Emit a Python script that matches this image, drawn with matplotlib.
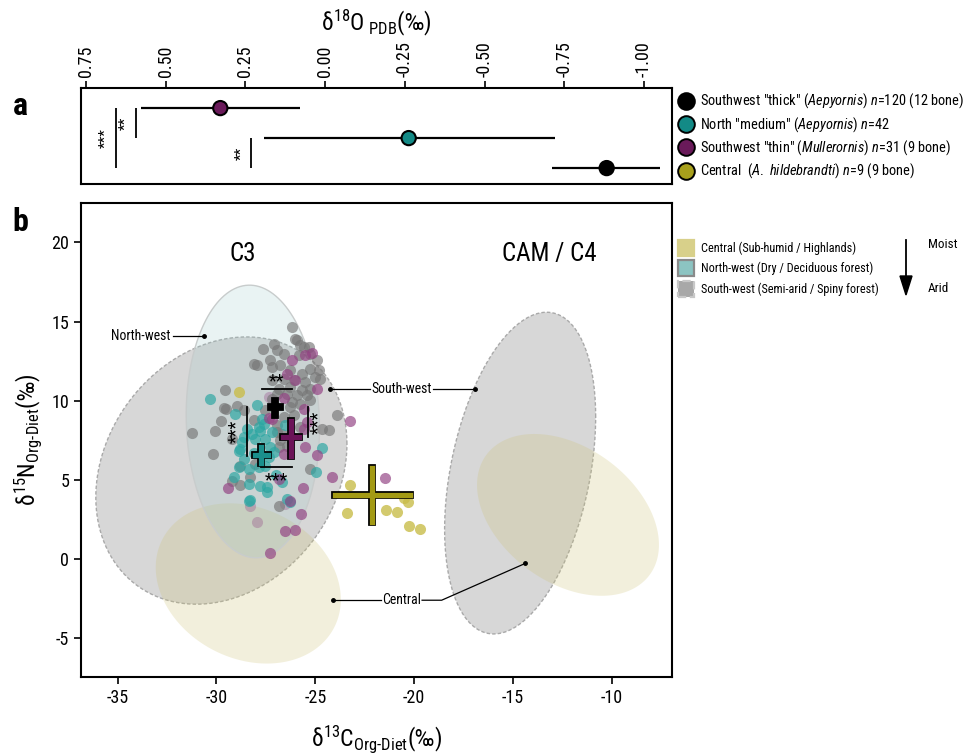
import numpy as np
import matplotlib.pyplot as plt
from matplotlib.lines import Line2D
from matplotlib.patches import Rectangle, Polygon
from matplotlib import font_manager as fm

# look for a narrow sans font; fall back to Liberation Sans
entries = fm.fontManager.ttflist
FONT, STRETCH = 'Liberation Sans', 'normal'
found = False
for b in ['Liberation Sans', 'Roboto', 'Open Sans', 'Noto Sans', 'DejaVu Sans', 'Lato', 'Inter']:
    for f in entries:
        if f.style != 'normal':
            continue
        if f.name in (b + ' Narrow', b + ' Condensed', b + ' SemiCondensed'):
            FONT, STRETCH, found = f.name, 'normal', True
            break
        if f.name == b and str(f.stretch) in ('condensed', 'semi-condensed', 'extra-condensed'):
            FONT, STRETCH, found = b, str(f.stretch), True
            break
    if found:
        break

extra = '' if STRETCH == 'normal' else ':stretch=' + STRETCH
plt.rcParams['font.family'] = [FONT, 'DejaVu Sans']
plt.rcParams['font.stretch'] = STRETCH
plt.rcParams['mathtext.fontset'] = 'custom'
plt.rcParams['mathtext.rm'] = FONT + extra
plt.rcParams['mathtext.it'] = FONT + ':italic' + extra
plt.rcParams['axes.unicode_minus'] = False

# ---- panel a : d18O ----
a_rows = [3, 2, 1]
a_mean = [0.329, -0.262, -0.883]
a_lo = [0.578, 0.192, -0.711]
a_hi = [0.078, -0.720, -1.050]
a_cols = ['#6a1a5a', '#138a86', '#000000']
a_ticks = [0.75, 0.50, 0.25, 0.00, -0.25, -0.50, -0.75, -1.00]

leg_a_labels = ['Southwest "thick" ($\\mathit{Aepyornis}$) $\\mathit{n}$=120 (12 bone)',
                'North "medium" $\\mathit{(Aepyornis)\\ n}$=42',
                'Southwest "thin" ($\\mathit{Mullerornis}$) $\\mathit{n}$=31 (9 bone)',
                'Central  ($\\mathit{A.\\ hildebrandti}$) $\\mathit{n}$=9 (9 bone)']
leg_a_cols = ['#000000', '#138a86', '#6a1a5a', '#a8a01c']

# ---- panel b : d13C / d15N ----
gray_x = [-26.18, -27.64, -27.27, -28.12, -27.95, -29.55, -29.64, -29.52, -28.96, -28.59,
          -27.53, -29.77, -28.12, -30.06, -31.24, -26.01, -25.75, -25.59, -25.33, -27.11,
          -26.60, -26.94, -25.84, -24.91, -24.83, -26.77, -27.19, -26.26, -25.67, -25.25,
          -25.00, -24.74, -26.60, -26.09, -25.50, -27.19, -26.85, -26.26, -25.67, -25.25,
          -26.94, -26.43, -25.92, -25.42, -26.18, -25.75, -27.19, -25.25, -23.90, -26.60,
          -26.09, -24.66, -24.32, -26.94, -25.75, -30.15, -29.21, -28.79, -28.32, -29.21,
          -28.79, -25.28, -26.85, -25.92, -25.25, -26.94, -26.68, -26.77, -26.43, -26.85,
          -28.03, -26.26]
gray_y = [14.66, 13.29, 12.55, 12.34, 12.28, 10.65, 9.53, 9.45, 9.66, 9.39,
          9.39, 8.75, 8.80, 8.12, 7.95, 13.92, 13.50, 13.39, 13.39, 13.61,
          12.97, 13.18, 12.87, 12.55, 11.96, 12.23, 12.13, 11.92, 11.71, 12.03,
          11.49, 11.39, 11.39, 11.28, 11.18, 11.28, 10.76, 10.86, 10.70, 10.76,
          10.44, 10.44, 10.34, 10.34, 9.91, 9.81, 10.13, 10.02, 9.07, 8.96,
          9.07, 8.23, 8.16, 8.44, 8.33, 6.65, 7.59, 5.90, 5.16, 4.96,
          4.68, 5.70, 3.33, 13.82, 12.97, 8.01, 7.91, 7.49, 7.17, 7.06,
          6.01, 9.59]

teal_x = [-30.31, -29.05, -27.95, -28.45, -27.87, -27.61, -26.51, -28.79, -28.71, -28.88,
          -28.37, -27.87, -27.53, -27.36, -29.13, -28.37, -27.78, -27.44, -28.32, -24.66,
          -24.94, -26.68, -26.43, -28.20, -28.03, -27.78, -27.53, -28.88, -27.27, -27.11,
          -27.44, -28.37, -26.30, -27.68, -27.17, -28.59, -28.08, -28.60, -27.00]
teal_y = [10.13, 9.14, 9.75, 8.23, 8.33, 8.54, 8.44, 6.96, 7.38, 5.80,
          5.70, 5.80, 5.90, 6.43, 5.16, 4.75, 4.64, 4.53, 3.75, 7.00,
          5.53, 4.85, 3.80, 7.91, 7.59, 8.12, 7.59, 6.85, 7.06, 6.75,
          4.21, 3.69, 3.58, 8.87, 8.00, 7.68, 6.73, 6.30, 5.30]

purple_x = [-27.33, -25.16, -25.50, -26.18, -26.43, -26.01, -24.91, -26.60, -25.59, -27.19,
            -25.42, -23.22, -25.50, -24.91, -26.60, -24.15, -26.85, -25.62, -26.30, -25.72,
            -26.51, -26.01, -27.27, -29.42, -21.45, -25.59]
purple_y = [8.92, 13.01, 12.87, 12.59, 11.71, 11.28, 10.72, 10.19, 9.49, 8.86,
            8.65, 8.75, 7.06, 6.58, 6.65, 5.16, 5.06, 4.49, 3.69, 2.85,
            1.79, 1.85, 0.40, 4.47, 5.10, 8.23]
# faint ones, lying under the ellipses
purple_pale_x = [-28.29, -27.95, -26.51, -27.36]
purple_pale_y = [3.37, 2.36, 3.48, 10.23]

olive_x = [-28.84, -23.27, -23.39, -21.40, -20.89, -20.30, -20.27, -19.71, -20.49]
olive_y = [10.54, 4.68, 2.91, 3.10, 2.95, 3.58, 2.06, 1.90, 3.88]

# group means: (x, y, xlo, xhi, ylo, yhi)
mean_black = (-27.02, 9.58, -27.23, -26.77, 9.13, 9.96)
mean_teal = (-27.73, 6.60, -28.03, -27.39, 6.05, 7.06)
mean_purple = (-26.21, 7.68, -26.62, -25.81, 6.54, 8.71)
mean_olive = (-22.12, 4.05, -24.02, -20.22, 2.32, 5.73)

# habitat ellipses: (cx, cy, rx, ry, rho)
ell_sw_c3 = (-29.75, 5.59, 6.35, 8.44, 0.20)
ell_ce_c3 = (-28.39, -1.54, 4.68, 5.06, -0.20)
ell_nw_c3 = (-28.16, 8.69, 3.37, 8.61, -0.05)
ell_sw_c4 = (-14.64, 5.43, 3.82, 10.16, 0.35)
ell_ce_c4 = (-12.22, 2.79, 4.60, 5.11, -0.37)


def ellipse(cx, cy, rx, ry, rho, n=300):
    t = np.linspace(0, 2 * np.pi, n)
    x = cx + rx * np.cos(t)
    y = cy + ry * (rho * np.cos(t) + np.sqrt(1 - rho ** 2) * np.sin(t))
    return x, y


def cross(ax, m, col):
    cx, cy, xlo, xhi, ylo, yhi = m
    for lw, c, z in ((5.6, 'black', 6), (3.8, col, 7)):
        ax.plot([xlo, xhi], [cy, cy], color=c, lw=lw, solid_capstyle='projecting', zorder=z)
        ax.plot([cx, cx], [ylo, yhi], color=c, lw=lw, solid_capstyle='projecting', zorder=z)


W, H = 965, 756
fig = plt.figure(figsize=(W / 100, H / 100), dpi=100)

# scale long texts so the first legend line is as wide as in the figure (~264 px)
probe = fig.text(0, 0, leg_a_labels[0], fontsize=11.5)
SC = min(1.0, 264 / probe.get_window_extent(fig.canvas.get_renderer()).width)
probe.remove()

# ---------- panel a ----------
ax_a = fig.add_axes([81 / W, 1 - 184 / H, 591 / W, 96 / H])
ax_a.set_xlim(0.766, -1.088)
ax_a.set_ylim(0.47, 3.67)
ax_a.hlines(a_rows, a_lo, a_hi, color='black', lw=1.6, zorder=2)
ax_a.scatter(a_mean, a_rows, s=105, c=a_cols, edgecolors='black', linewidths=1.5, zorder=3)
ax_a.vlines([0.657, 0.594, 0.232], [1, 2, 1], [3, 3, 2], color='black', lw=1.3)
ax_a.text(0.688, 2.0, '***', rotation=90, ha='center', va='center', fontsize=11)
ax_a.text(0.625, 2.5, '**', rotation=90, ha='center', va='center', fontsize=11)
ax_a.text(0.262, 1.5, '**', rotation=90, ha='center', va='center', fontsize=11)
ax_a.xaxis.tick_top()
ax_a.xaxis.set_label_position('top')
ax_a.set_xticks(a_ticks)
ax_a.set_xticklabels([f'{v:.2f}' for v in a_ticks])
ax_a.tick_params(axis='x', rotation=90, labelsize=13, length=5, width=1.2, pad=3)
ax_a.set_yticks([])
ax_a.set_xlabel('δ$^{18}$O$_{\\mathrm{\\ PDB}}$(‰)', fontsize=17, labelpad=8)
for s in ax_a.spines.values():
    s.set_linewidth(1.5)

for i, (lab, col) in enumerate(zip(leg_a_labels, leg_a_cols)):
    yy = 1 - (101 + i * 23.2) / H
    fig.add_artist(Line2D([686 / W], [yy], marker='o', markersize=12, color=col,
                          markeredgecolor='black', markeredgewidth=1.4, transform=fig.transFigure))
    fig.text(700 / W, yy, lab, fontsize=11.5 * SC, va='center', ha='left')

fig.text(20 / W, 1 - 106 / H, 'a', fontsize=23, fontweight='bold', ha='center', va='center')
fig.text(20 / W, 1 - 222 / H, 'b', fontsize=23, fontweight='bold', ha='center', va='center')

# ---------- panel b ----------
ax = fig.add_axes([81 / W, 1 - 677 / H, 591 / W, 474 / H])
ax.set_xlim(-36.85, -6.96)
ax.set_ylim(-7.45, 22.49)

for e in (ell_sw_c3, ell_sw_c4):
    ex, ey = ellipse(*e)
    ax.fill(ex, ey, color='#8f8f8f', alpha=0.35, lw=0, zorder=1)
    ax.plot(ex, ey, color='#a9a9a9', lw=1.0, ls=(0, (2.5, 1.5)), zorder=1)
for e in (ell_ce_c3, ell_ce_c4):
    ex, ey = ellipse(*e)
    ax.fill(ex, ey, color='#cdc274', alpha=0.25, lw=0, zorder=1)
ex, ey = ellipse(*ell_nw_c3)
ax.fill(ex, ey, color='#9cc9c9', alpha=0.22, lw=0, zorder=1)
ax.plot(ex, ey, color='#c8cccc', lw=1.0, zorder=1)

ax.scatter(purple_pale_x, purple_pale_y, s=64, color='#8e3a7e', alpha=0.3, lw=0, zorder=2)
ax.scatter(gray_x, gray_y, s=64, color='#767676', alpha=0.65, lw=0, zorder=3)
ax.scatter(teal_x, teal_y, s=64, color='#2aa6a2', alpha=0.68, lw=0, zorder=3)
ax.scatter(purple_x, purple_y, s=64, color='#934283', alpha=0.68, lw=0, zorder=3)
ax.scatter(olive_x, olive_y, s=64, color='#c9bd4a', alpha=0.8, lw=0, zorder=3)

cross(ax, mean_black, '#000000')
cross(ax, mean_teal, '#1a8f8c')
cross(ax, mean_purple, '#6b1458')
cross(ax, mean_olive, '#a39a14')

# significance brackets
ax.plot([-27.69, -26.18], [10.71, 10.71], color='black', lw=1.3, zorder=5)
ax.text(-26.94, 11.2, '**', ha='center', va='center', fontsize=13, zorder=8)
ax.plot([-27.73, -26.18], [5.80, 5.80], color='black', lw=1.3, zorder=5)
ax.text(-26.97, 5.0, '***', ha='center', va='center', fontsize=13, zorder=8)
ax.plot([-28.45, -28.45], [9.58, 6.54], color='black', lw=1.3, zorder=5)
ax.text(-29.0, 8.06, '***', rotation=90, ha='center', va='center', fontsize=13, zorder=8)
ax.plot([-25.36, -25.36], [9.58, 7.70], color='black', lw=1.3, zorder=5)
ax.text(-24.85, 8.64, '***', rotation=90, ha='center', va='center', fontsize=13, zorder=8)

# region labels with leader lines
lab_kw = dict(fontsize=11 * SC, va='center', zorder=8)
ax.text(-32.35, 14.07, 'North-west', ha='right', **lab_kw)
ax.plot([-32.2, -30.62], [14.07, 14.07], color='black', lw=0.9, zorder=8)
ax.plot([-30.62], [14.07], 'o', color='black', ms=2.5, zorder=8)

ax.text(-20.66, 10.71, 'South-west', ha='center', **lab_kw)
ax.plot([-24.26, -22.25], [10.71, 10.71], color='black', lw=0.9, zorder=8)
ax.plot([-19.07, -16.91], [10.71, 10.71], color='black', lw=0.9, zorder=8)
ax.plot([-24.26, -16.91], [10.71, 10.71], 'o', color='black', ms=2.5, zorder=8)

ax.text(-20.66, -2.6, 'Central', ha='center', **lab_kw)
ax.plot([-24.10, -21.67], [-2.6, -2.6], color='black', lw=0.9, zorder=8)
ax.plot([-19.60, -18.61, -14.39], [-2.6, -2.6, -0.28], color='black', lw=0.9, zorder=8)
ax.plot([-24.10, -14.39], [-2.6, -0.28], 'o', color='black', ms=2.5, zorder=8)

ax.text(-28.66, 19.3, 'C3', ha='center', va='center', fontsize=18)
ax.text(-13.19, 19.3, 'CAM / C4', ha='center', va='center', fontsize=18)

ax.set_xticks([-35, -30, -25, -20, -15, -10])
ax.set_yticks([-5, 0, 5, 10, 15, 20])
ax.tick_params(labelsize=13, length=5, width=1.2)
ax.set_xlabel('δ$^{13}$C$_{\\text{Org-Diet}}$(‰)', fontsize=17, labelpad=12)
ax.set_ylabel('δ$^{15}$N$_{\\text{Org-Diet}}$(‰)', fontsize=17, labelpad=5)
for s in ax.spines.values():
    s.set_linewidth(1.5)

# habitat legend
leg_b_labels = ['Central (Sub-humid / Highlands)', 'North-west (Dry / Deciduous forest)',
                'South-west (Semi-arid / Spiny forest)']
leg_b_face = ['#d8d08a', '#8cc4c2', '#a8a8a8']
leg_b_edge = ['#d8d08a', '#8a8a8a', '#c8c8c8']
leg_b_ls = ['-', '-', '--']
for i in range(3):
    yc = 248 + i * 20.5
    fig.add_artist(Rectangle((678 / W, 1 - (yc + 8) / H), 16 / W, 16 / H, transform=fig.transFigure,
                             facecolor=leg_b_face[i], edgecolor=leg_b_edge[i], lw=1.6, ls=leg_b_ls[i]))
    fig.text(701 / W, 1 - yc / H, leg_b_labels[i], fontsize=10.5 * SC * 0.94, va='center', ha='left')

fig.add_artist(Line2D([906 / W, 906 / W], [1 - 240 / H, 1 - 282 / H], color='black', lw=1.3,
                      transform=fig.transFigure))
fig.add_artist(Polygon([[900 / W, 1 - 276 / H], [912 / W, 1 - 276 / H], [906 / W, 1 - 295 / H]],
                       closed=True, color='black', transform=fig.transFigure))
fig.text(928 / W, 1 - 245 / H, 'Moist', fontsize=10.5 * SC, va='center', ha='left')
fig.text(928 / W, 1 - 288 / H, 'Arid', fontsize=10.5 * SC, va='center', ha='left')

fig.savefig('out.png', dpi=100)
